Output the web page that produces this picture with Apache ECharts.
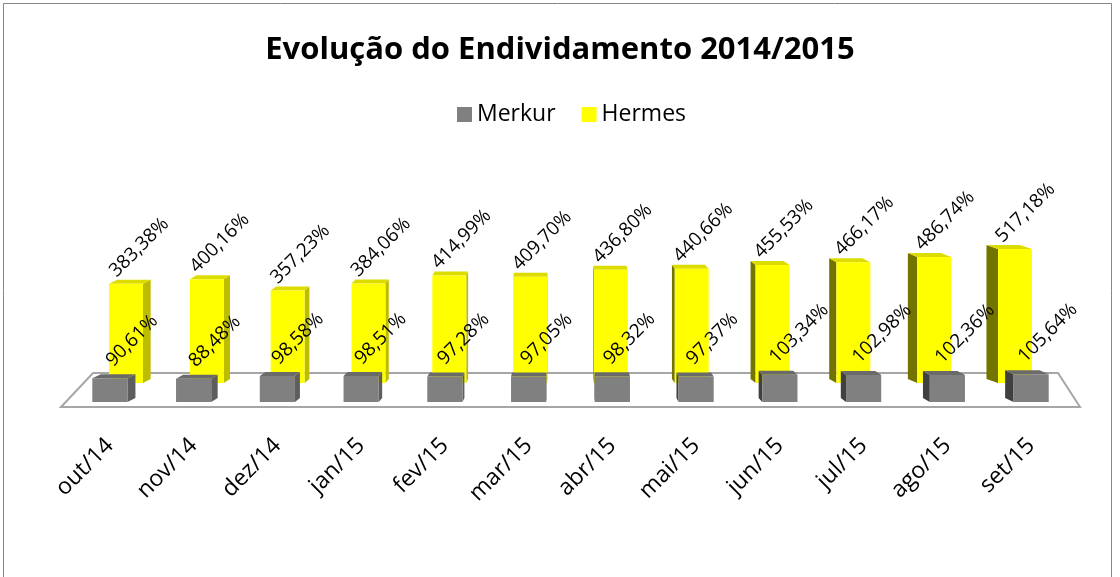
<!DOCTYPE html>
<html lang="pt">
<head>
    <meta charset="UTF-8">
    <title>Evolução do Endividamento 2014/2015</title>
    <script src="https://cdn.jsdelivr.net/npm/echarts@6/dist/echarts.min.js"></script>
    <style>
        html, body { margin: 0; padding: 0; background: #fff; }
    </style>
</head>
<body>
<div id="main" style="width: 1120px;height:577px;"></div>
<script type="text/javascript">
    // meses
    var categories = ['out/14', 'nov/14', 'dez/14', 'jan/15', 'fev/15', 'mar/15',
        'abr/15', 'mai/15', 'jun/15', 'jul/15', 'ago/15', 'set/15'];
    // endividamento (%)
    var merkur = [90.61, 88.48, 98.58, 98.51, 97.28, 97.05, 98.32, 97.37, 103.34, 102.98, 102.36, 105.64];
    var hermes = [383.38, 400.16, 357.23, 384.06, 414.99, 409.70, 436.80, 440.66, 455.53, 466.17, 486.74, 517.18];

    var FONT = '"Open Sans", sans-serif';

    function fmt(v) {
        return v.toFixed(2).replace('.', ',') + '%';
    }

    // desenha uma coluna com aspecto 3D (frente, lado, topo)
    function makeRender(back, colors, lab) {
        return function (params, api) {
            var idx = api.value(0);
            var val = api.value(1);
            var cs = params.coordSys;
            var vx = cs.x + cs.width / 2;
            var top = api.coord([idx, val]);
            var base = api.coord([idx, 0]);
            var bw = api.size([1, 0])[0] * 0.42;
            var k = back ? 0.965 : 1;
            var xc = back ? vx + (top[0] - vx) * k : top[0];
            var w = bw * k;
            var yB = back ? base[1] - 19 : base[1];
            var h = (base[1] - top[1]) * (back ? 0.985 : 1);
            var yT = yB - h;
            var x0 = xc - w / 2, x1 = xc + w / 2;
            var dy = 4;
            var kr = 0.018, kl = back ? 0.027 : 0.019;
            var dx0 = (vx - x0) * (x0 > vx ? kl : kr), dx1 = (vx - x1) * (x1 > vx ? kl : kr);
            var children = [];
            if (x1 < vx - 2) {
                children.push({
                    type: 'polygon',
                    shape: {points: [[x1, yT], [x1 + dx1, yT - dy], [x1 + dx1, yB - dy], [x1, yB]]},
                    style: {fill: colors.right}
                });
            } else if (x0 > vx + 2) {
                children.push({
                    type: 'polygon',
                    shape: {points: [[x0, yT], [x0 + dx0, yT - dy], [x0 + dx0, yB - dy], [x0, yB]]},
                    style: {fill: colors.left}
                });
            }
            children.push({
                type: 'polygon',
                shape: {points: [[x0, yT], [x1, yT], [x1 + dx1, yT - dy], [x0 + dx0, yT - dy]]},
                style: {fill: colors.top}
            });
            children.push({
                type: 'rect',
                shape: {x: x0, y: yT, width: w, height: h},
                style: {fill: colors.front}
            });
            children.push({
                type: 'text',
                x: x0 + lab[0] + (vx - x0) * lab[2],
                y: yT - lab[1],
                rotation: Math.PI / 4,
                z2: 10,
                style: {
                    text: fmt(val),
                    fill: '#000',
                    font: '19px ' + FONT,
                    align: 'left',
                    verticalAlign: 'bottom'
                }
            });
            return {type: 'group', children: children};
        };
    }

    var myChart = echarts.init(document.getElementById('main'));
    myChart.setOption({
        animation: false,
        title: {
            text: 'Evolução do Endividamento 2014/2015',
            left: 'center',
            top: 30,
            textStyle: {fontFamily: FONT, fontSize: 31, fontWeight: 'bold', color: '#000'}
        },
        legend: {
            top: 98,
            left: 452,
            icon: 'rect',
            itemWidth: 15,
            itemHeight: 15,
            itemGap: 26,
            itemStyle: {borderWidth: 0},
            textStyle: {fontFamily: FONT, fontSize: 23, color: '#000'},
            data: ['Merkur', 'Hermes']
        },
        graphic: [
            {
                type: 'rect',
                z: -10,
                shape: {x: 3.5, y: 3.5, width: 1108, height: 620},
                style: {fill: null, stroke: '#868686', lineWidth: 1}
            },
            {
                type: 'polygon',
                z: -5,
                shape: {points: [[61, 407], [1080, 407], [1058, 373], [93, 373]]},
                style: {fill: null, stroke: '#a6a6a6', lineWidth: 2}
            }
        ],
        grid: {left: 68, right: 47, top: 139, bottom: 175},
        xAxis: {
            type: 'category',
            data: categories,
            axisLine: {show: false},
            axisTick: {show: false},
            axisLabel: {
                rotate: 45,
                margin: 40,
                interval: 0,
                fontFamily: FONT,
                fontSize: 23,
                color: '#000'
            }
        },
        yAxis: {
            type: 'value',
            min: 0,
            max: 1000,
            show: false
        },
        series: [
            {
                name: 'Hermes',
                type: 'custom',
                clip: false,
                itemStyle: {color: '#ffff00'},
                encode: {x: 0, y: 1},
                renderItem: makeRender(true,
                    {front: '#ffff00', top: '#dcdc00', right: '#bcbc00', left: '#737300'}, [9, 3, 0.003]),
                data: hermes.map(function (v, i) { return [i, v]; })
            },
            {
                name: 'Merkur',
                type: 'custom',
                clip: false,
                itemStyle: {color: '#808080'},
                encode: {x: 0, y: 1},
                renderItem: makeRender(false,
                    {front: '#808080', top: '#6a6a6a', right: '#5e5e5e', left: '#404040'}, [19, 8, 0.01]),
                data: merkur.map(function (v, i) { return [i, v]; })
            }
        ]
    });
</script>
</body>
</html>
